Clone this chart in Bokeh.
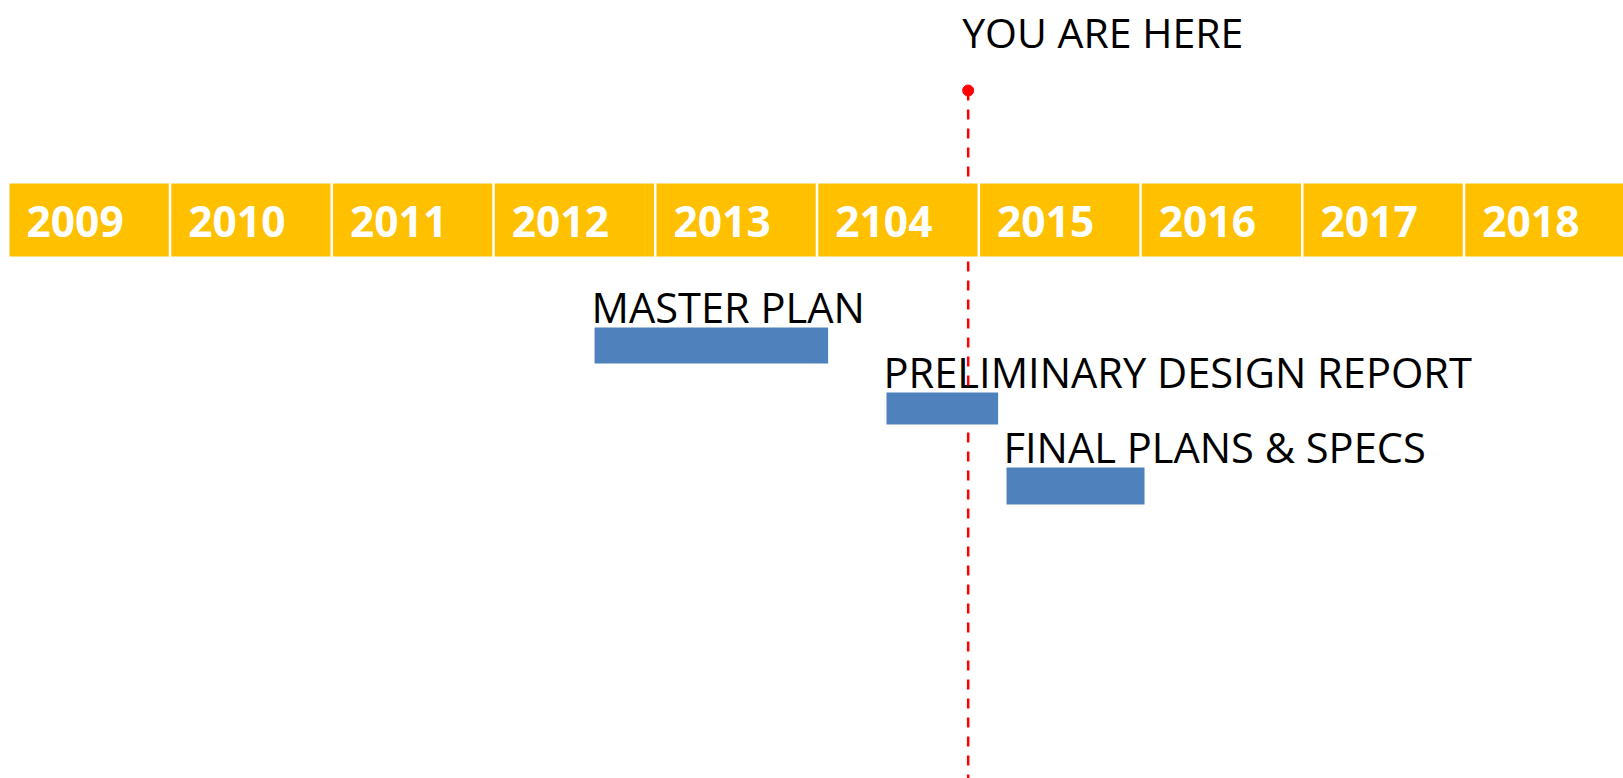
from bokeh.plotting import figure
from bokeh.models import Range1d, ColumnDataSource
from bokeh.core.properties import value
from bokeh.embed import file_html
from bokeh.resources import INLINE

# ---- data ----
years = [2009, 2010, 2011, 2012, 2013, 2014, 2015, 2016, 2017, 2018]
year_labels = ["2009", "2010", "2011", "2012", "2013", "2104", "2015", "2016", "2017", "2018"]
task_names = ["MASTER PLAN", "PRELIMINARY DESIGN REPORT", "FINAL PLANS & SPECS"]
task_start = [2012.617, 2014.422, 2015.164]
task_end = [2014.061, 2015.112, 2016.017]
today = 2014.927
today_label = "YOU ARE HERE"

# ---- layout ----
W, H = 1623, 778
px_per_year = 161.75
x_start = years[0] - 9.0 / px_per_year
x_end = x_start + W / px_per_year
gap = 2.5 / px_per_year
band_top, band_bottom = 183, 256
row_tops = [327, 392, 467]      # pixel rows of the task bars
row_heights = [36, 32, 37]
TXT_SHIFT = 16  # renderer places alphabetic baseline lower than anchor

FONT = value("Open Sans")
ORANGE = "#FFC000"
BLUE = "#4F81BD"
RED = "#FF0000"

p = figure(width=W, height=H, output_backend="svg", toolbar_location=None,
           x_range=Range1d(x_start, x_end), y_range=Range1d(H, 0),
           x_axis_type=None, y_axis_type=None, min_border=0,
           background_fill_color="white", border_fill_color="white")
p.outline_line_color = None
p.grid.visible = False

# task labels (under the red line)
tsrc = ColumnDataSource(dict(
    left=task_start, right=task_end,
    top=row_tops, bottom=[t + h for t, h in zip(row_tops, row_heights)],
    name=task_names, ty=[t - 5 - TXT_SHIFT for t in row_tops]))
p.text(x="left", y="ty", text="name", source=tsrc, text_font=FONT,
       text_font_size="41.6px", text_color="black", text_align="left",
       text_baseline="alphabetic", x_offset=-3)

# "you are here" marker
p.segment(x0=[today], y0=[90], x1=[today], y1=[H], line_color=RED,
          line_width=2.5, line_dash="10 9")
p.scatter(x=[today], y=[90], size=11, color=RED)
p.text(x=[today], y=[47 - TXT_SHIFT], text=[today_label], text_font=FONT,
       text_font_size="41px", text_color="black", text_align="left",
       text_baseline="alphabetic", x_offset=-6)

# task bars
p.quad(left="left", right="right", top="top", bottom="bottom", source=tsrc,
       fill_color=BLUE, line_color=None)

# year band
ysrc = ColumnDataSource(dict(
    left=years, right=[y + 1 - gap for y in years], label=year_labels))
p.quad(left="left", right="right", top=band_top, bottom=band_bottom,
       source=ysrc, fill_color=ORANGE, line_color=None)
p.text(x="left", y=237 - TXT_SHIFT, text="label", source=ysrc, text_font=FONT,
       text_font_style="bold", text_font_size="42.5px", text_color="white",
       text_align="left", text_baseline="alphabetic", x_offset=17)

open("out.html", "w").write(file_html(p, INLINE))
